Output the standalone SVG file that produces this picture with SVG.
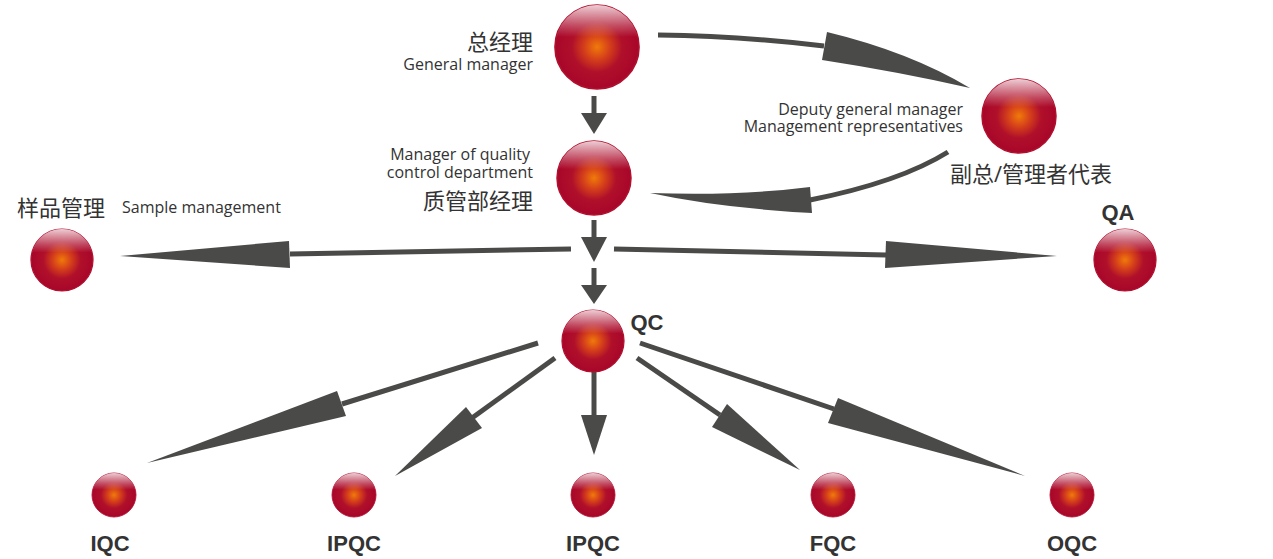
<svg xmlns="http://www.w3.org/2000/svg" width="1273" height="559" viewBox="0 0 1273 559">
<defs>
<radialGradient id="core" cx="0.5" cy="0.5" r="0.5">
<stop offset="0" stop-color="#f07a0a"/>
<stop offset="0.3" stop-color="#d5401a"/>
<stop offset="0.6" stop-color="#b0102a"/>
<stop offset="1" stop-color="#a8062a"/>
</radialGradient>
<linearGradient id="hl" x1="0" y1="0" x2="0" y2="1">
<stop offset="0" stop-color="#fff" stop-opacity="0.8"/>
<stop offset="0.25" stop-color="#fff" stop-opacity="0.25"/>
<stop offset="0.38" stop-color="#fff" stop-opacity="0"/>
</linearGradient>
<g id="ball"><circle r="1" fill="url(#core)" stroke="#b0102e" stroke-width="0.04"/><circle r="1" fill="url(#hl)"/></g>
</defs>
<style>
.t{font-family:"Open Sans","Noto Sans CJK SC",sans-serif;fill:#333}
.cn{font-size:22px}
.en{font-size:16px}
.b{font-family:"Liberation Sans",Arial,sans-serif;font-weight:bold;font-size:22px;fill:#333;text-anchor:middle}
.ln{stroke:#4a4a48;stroke-width:5;fill:none}
.hd{fill:#4a4a48}
</style>
<rect width="1273" height="559" fill="#fff"/>
<g id="connectors">
<line class="ln" x1="594" y1="96" x2="594" y2="114"/><polygon class="hd" points="581,113 607,113 594,134"/>
<line class="ln" x1="594" y1="220" x2="594" y2="238"/><polygon class="hd" points="581,237 607,237 594,262"/>
<line class="ln" x1="594" y1="268" x2="594" y2="286"/><polygon class="hd" points="581,285 607,285 594,304"/>
<line class="ln" x1="571" y1="249" x2="290" y2="254"/><polygon class="hd" points="289,241 290,268 120,256"/>
<line class="ln" x1="614" y1="249" x2="886" y2="255"/><polygon class="hd" points="886,241 885,268 1057,256"/>
<path class="ln" d="M658,35 Q740,36 824,46"/><path class="hd" d="M827,32 L822,60 Q900,72 970,88 Q910,52 827,32Z"/>
<path class="ln" d="M948,152 Q900,182 810,200"/><path class="hd" d="M810,187 L812,213 Q720,208 650,193 Q740,196 810,187Z"/>
<line class="ln" x1="538" y1="343" x2="342" y2="404"/><polygon class="hd" points="337,391 346,416 147,463"/>
<line class="ln" x1="555" y1="358" x2="472" y2="418"/><polygon class="hd" points="466,407 482,428 395,476"/>
<line class="ln" x1="594" y1="358" x2="594" y2="416"/><polygon class="hd" points="581,415 607,415 594,455"/>
<line class="ln" x1="637" y1="358" x2="720" y2="415"/><polygon class="hd" points="727,404 712,427 800,470"/>
<line class="ln" x1="640" y1="343" x2="834" y2="409"/><polygon class="hd" points="838,398 828,423 1025,476"/>
</g>
<g id="n-gm"><use href="#ball" transform="translate(597,47) scale(42)"/><text class="t cn" x="533" y="50" text-anchor="end">总经理</text><text class="t en" x="533" y="70" text-anchor="end">General manager</text></g>
<g id="n-qm"><use href="#ball" transform="translate(594,178) scale(37)"/><text class="t en" x="530" y="160" text-anchor="end">Manager of quality</text><text class="t en" x="533" y="178" text-anchor="end">control department</text><text class="t cn" x="533" y="209" text-anchor="end">质管部经理</text></g>
<g id="n-dep"><use href="#ball" transform="translate(1019,116) scale(37)"/><text class="t en" x="963" y="115" text-anchor="end">Deputy general manager</text><text class="t en" x="963" y="132" text-anchor="end">Management representatives</text><text class="t cn" x="950" y="182">副总/管理者代表</text></g>
<g id="n-sample"><use href="#ball" transform="translate(62,260) scale(31)"/><text class="t cn" x="17" y="216">样品管理</text><text class="t en" x="122" y="213">Sample management</text></g>
<g id="n-qa"><use href="#ball" transform="translate(1125,260) scale(31)"/><text class="b" x="1118" y="220">QA</text></g>
<g id="n-qc"><use href="#ball" transform="translate(593,341) scale(31)"/><text class="b" x="647" y="330">QC</text></g>
<g id="n-iqc"><use href="#ball" transform="translate(114,495) scale(22)"/><text class="b" x="110" y="551">IQC</text></g>
<g id="n-ipqc1"><use href="#ball" transform="translate(354,495) scale(22)"/><text class="b" x="354" y="551">IPQC</text></g>
<g id="n-ipqc2"><use href="#ball" transform="translate(593,495) scale(22)"/><text class="b" x="593" y="551">IPQC</text></g>
<g id="n-fqc"><use href="#ball" transform="translate(833,495) scale(22)"/><text class="b" x="833" y="551">FQC</text></g>
<g id="n-oqc"><use href="#ball" transform="translate(1072,495) scale(22)"/><text class="b" x="1072" y="551">OQC</text></g>
</svg>
